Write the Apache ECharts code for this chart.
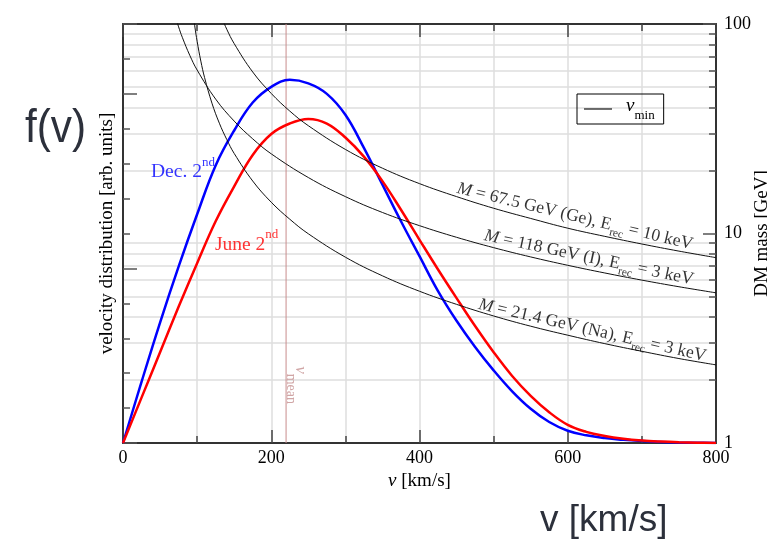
<!DOCTYPE html>
<html><head><meta charset="utf-8">
<script src="https://cdn.jsdelivr.net/npm/echarts@6/dist/echarts.min.js"></script>
<style>html,body{margin:0;padding:0;background:#fff}#c{width:767px;height:539px}</style>
</head><body><div id="c"></div>
<script>
// ---- data ----
const velocity = [0,25,50,75,100,125,150,175,200,225,250,275,300,325,350,375,400,425,450,475,500,525,550,575,600,625,650,675,700,725,750,775,800];
const fDec  = [0,1.75,3.45,5.05,6.55,7.95,8.95,9.75,10.2,10.4,10.3,10.0,9.4,8.45,7.4,6.35,5.35,4.35,3.5,2.75,2.08,1.48,0.98,0.6,0.35,0.22,0.14,0.09,0.055,0.03,0.015,0.006,0];
const fJune = [0,1.3,2.6,3.9,5.15,6.35,7.35,8.25,8.85,9.15,9.28,9.15,8.75,8.2,7.5,6.68,5.82,4.97,4.15,3.35,2.6,1.92,1.35,0.88,0.52,0.32,0.2,0.12,0.07,0.04,0.02,0.008,0];
const vGe  = [130,140,150,175,200,225,250,300,350,400,450,500,550,600,650,700,750,800];
const mGe  = [113.9,94.4,80.6,59.0,46.6,38.4,32.7,25.2,20.5,17.3,15.0,13.2,11.8,10.6,9.69,8.91,8.24,7.67];
const vI   = [70,75,80,90,100,125,150,175,200,250,300,350,400,450,500,550,600,650,700,750,800];
const mI   = [110.3,96.9,86.4,71.0,60.3,43.8,34.4,28.3,24.0,18.5,15.0,12.6,10.9,9.59,8.56,7.73,7.05,6.48,5.99,5.57,5.21];
const vNa  = [95,97,100,105,110,120,130,140,150,175,200,225,250,300,350,400,450,500,550,600,650,700,750,800];
const mNa  = [109.1,96.7,82.7,66.5,55.6,41.9,33.6,28.1,24.1,17.8,14.1,11.7,9.97,7.71,6.28,5.30,4.59,4.04,3.61,3.27,2.98,2.74,2.53,2.36];
const vMean = 220;
const vTickLabels = [0,200,400,600,800];
const massMajorTicks = [1,10,100];
const massMinorTicks = [2,3,4,5,6,7,8,9,20,30,40,50,60,70,80,90];
const fTickStep = 1, fTickMajorStep = 5, fMax = 12;

const SERIF = '"Liberation Serif","Times New Roman",serif';
const FRAME = '#333';
const GRIDC = '#dedede';
const pairs = (xs, ys) => xs.map((x, i) => [x, ys[i]]);

const chart = echarts.init(document.getElementById('c'));

function xAx(pos, interval, len, main) {
  return {
    type: 'value', min: 0, max: 800, interval: interval, position: pos,
    axisLine: { show: main, onZero: false, lineStyle: { color: FRAME, width: 2 } },
    axisTick: { show: true, inside: true, length: len, lineStyle: { color: '#444', width: 1.5 } },
    axisLabel: (main && pos === 'bottom') ? {
      show: true, margin: 6, color: '#000', fontFamily: SERIF, fontSize: 18,
      formatter: v => vTickLabels.includes(v) ? String(v) : ''
    } : { show: false },
    splitLine: { show: main && pos === 'bottom', lineStyle: { color: GRIDC, width: 1.5 } },
    name: (main && pos === 'bottom') ? '{i|v} [km/s]' : '',
    nameLocation: 'middle', nameGap: 25,
    nameTextStyle: { fontFamily: SERIF, fontSize: 19, color: '#000',
      rich: { i: { fontFamily: SERIF, fontStyle: 'italic', fontSize: 19, color: '#000' } } }
  };
}

const curveRich = {
  t: { fontFamily: SERIF, fontSize: 17.6, lineHeight: 26, color: '#000' },
  mi: { fontFamily: SERIF, fontStyle: 'italic', fontSize: 17.6, lineHeight: 26, color: '#000' },
  s: { fontFamily: SERIF, fontSize: 11.5, lineHeight: 12, verticalAlign: 'bottom', color: '#000' }
};

function labelPoint(coord, text, rotate, rich) {
  return {
    value: coord,
    label: { show: true, position: 'inside', align: 'left', verticalAlign: 'bottom',
      rotate: rotate, formatter: text, rich: rich }
  };
}

function supRich(color) {
  return {
    t: { fontFamily: SERIF, fontSize: 19.5, lineHeight: 32, color: color },
    p: { fontFamily: SERIF, fontSize: 13, lineHeight: 12, verticalAlign: 'top', color: color }
  };
}

const option = {
  animation: false,
  backgroundColor: '#fff',
  grid: { left: 123, right: 51, top: 24, bottom: 96, containLabel: false, outerBoundsMode: 'none' },
  xAxis: [ xAx('bottom', 100, 7, true), xAx('bottom', 200, 13, false),
           xAx('top', 100, 7, true), xAx('top', 200, 13, false) ],
  yAxis: [
    { type: 'value', min: 0, max: fMax, interval: fTickStep, position: 'left',
      axisLine: { show: true, onZero: false, lineStyle: { color: FRAME, width: 2 } },
      axisTick: { inside: true, length: 7, lineStyle: { color: '#555', width: 1.5 } },
      axisLabel: { show: false }, splitLine: { show: false },
      name: 'velocity distribution [arb. units]', nameLocation: 'middle', nameGap: 6,
      nameTextStyle: { fontFamily: SERIF, fontSize: 19, color: '#000' } },
    { type: 'value', min: 0, max: fMax, interval: fTickMajorStep, position: 'left',
      axisLine: { show: false, onZero: false },
      axisTick: { inside: true, length: 14, lineStyle: { color: '#555', width: 1.5 } },
      axisLabel: { show: false }, splitLine: { show: false } },
    { type: 'log', logBase: 10, min: 1, max: 100, position: 'right',
      axisLine: { show: true, onZero: false, lineStyle: { color: FRAME, width: 2 } },
      axisTick: { inside: true, length: 7, customValues: massMinorTicks, lineStyle: { color: '#555', width: 1.5 } },
      axisLabel: { show: false },
      splitLine: { show: true, lineStyle: { color: GRIDC, width: 1.5 } },
      name: 'DM mass [GeV]', nameLocation: 'middle', nameGap: 37,
      nameTextStyle: { fontFamily: SERIF, fontSize: 19, color: '#000' } },
    { type: 'log', logBase: 10, min: 1, max: 100, position: 'right',
      axisLine: { show: false, onZero: false },
      axisTick: { inside: true, length: 13, customValues: massMajorTicks, lineStyle: { color: '#555', width: 1.5 } },
      axisLabel: { show: true, margin: 8, color: '#000', fontFamily: SERIF, fontSize: 18, customValues: massMajorTicks },
      splitLine: { show: false } }
  ],
  legend: {
    data: [{ name: 'vmin', icon: 'rect', itemStyle: { color: '#111' } }], left: 577, top: 94,
    borderColor: '#000', borderWidth: 1, borderRadius: 0,
    padding: [2, 9, 2, 7], itemWidth: 28, itemHeight: 1.2, itemGap: 0,
    formatter: () => '{sp| }{i|v}{s|min}',
    textStyle: { rich: {
      sp: { fontSize: 12, lineHeight: 26, width: 9 },
      i: { fontFamily: SERIF, fontStyle: 'italic', fontSize: 19, lineHeight: 20, verticalAlign: 'top', color: '#000' },
      s: { fontFamily: SERIF, fontSize: 13, lineHeight: 12, verticalAlign: 'bottom', color: '#000' }
    } }
  },
  graphic: [
    { type: 'text', left: 25, top: 106, scaleX: 0.9, style: { text: 'f(v)', font: '47px "Liberation Sans", Arial, sans-serif', fill: '#2c303b' } },
    { type: 'text', left: 540, top: 502, style: { text: 'v [km/s]', font: '37px "Liberation Sans", Arial, sans-serif', fill: '#2c303b' } }
  ],
  series: [
    { type: 'line', name: 'vmean', data: [[vMean, 0], [vMean, fMax]], xAxisIndex: 0, yAxisIndex: 0,
      symbol: 'none', lineStyle: { color: '#c98c8c', width: 1 }, z: 2, silent: true },
    { type: 'line', name: 'Dec', data: pairs(velocity, fDec), xAxisIndex: 0, yAxisIndex: 0, smooth: 0.4,
      symbol: 'none', lineStyle: { color: '#0000ff', width: 2.5 }, z: 3 },
    { type: 'line', name: 'June', data: pairs(velocity, fJune), xAxisIndex: 0, yAxisIndex: 0, smooth: 0.4,
      symbol: 'none', lineStyle: { color: '#ff0000', width: 2.5 }, z: 3 },
    { type: 'line', name: 'vmin', data: pairs(vGe, mGe), xAxisIndex: 0, yAxisIndex: 2, smooth: 0.4,
      symbol: 'none', lineStyle: { color: '#111', width: 1 }, itemStyle: { color: '#111' }, z: 4 },
    { type: 'line', name: 'vmin', data: pairs(vI, mI), xAxisIndex: 0, yAxisIndex: 2, smooth: 0.4,
      symbol: 'none', lineStyle: { color: '#111', width: 1 }, itemStyle: { color: '#111' }, z: 4 },
    { type: 'line', name: 'vmin', data: pairs(vNa, mNa), xAxisIndex: 0, yAxisIndex: 2, smooth: 0.4,
      symbol: 'none', lineStyle: { color: '#111', width: 1 }, itemStyle: { color: '#111' }, z: 4 },
    { type: 'scatter', name: 'curveLabels', xAxisIndex: 0, yAxisIndex: 2, symbolSize: 1,
      itemStyle: { color: 'rgba(0,0,0,0)' }, silent: true, z: 5,
      data: [
        labelPoint([447, 14.3], '{mi|M}{t| = 67.5 GeV (Ge), E}{s|rec}{t| = 10 keV}', -13.5, curveRich),
        labelPoint([484, 8.5], '{mi|M}{t| = 118 GeV (I), E}{s|rec}{t| = 3 keV}', -12, curveRich),
        labelPoint([476, 4.0], '{mi|M}{t| = 21.4 GeV (Na), E}{s|rec}{t| = 3 keV}', -13, curveRich)
      ] },
    { type: 'scatter', name: 'fLabels', xAxisIndex: 0, yAxisIndex: 0, symbolSize: 1,
      itemStyle: { color: 'rgba(0,0,0,0)' }, silent: true, z: 5,
      data: [
        labelPoint([37.8, 7.3], '{t|Dec. 2}{p|nd}', 0, supRich('#0000ff')),
        labelPoint([124.1, 5.23], '{t|June 2}{p|nd}', 0, supRich('#ff0000')),
        labelPoint([217.2, 2.2], '{i|v}{s|mean}', -90, {
          i: { fontFamily: SERIF, fontStyle: 'italic', fontSize: 17, lineHeight: 33, color: '#c48f8f' },
          s: { fontFamily: SERIF, fontSize: 14, lineHeight: 14, verticalAlign: 'bottom', color: '#c48f8f' } })
      ] }
  ]
};
chart.setOption(option);
</script>
</body></html>
